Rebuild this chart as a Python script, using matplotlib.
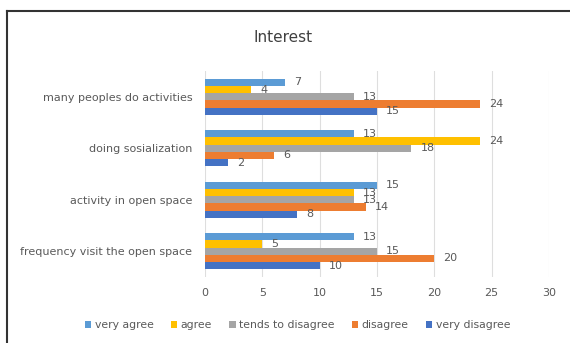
import matplotlib.pyplot as plt
import numpy as np

# Survey answers per statement (counts)
CATEGORIES = ["frequency visit the open space", "activity in open space",
              "doing sosialization", "many peoples do activities"]
SERIES = ["very agree", "agree", "tends to disagree", "disagree", "very disagree"]
VERY_AGREE = [13, 15, 13, 7]
AGREE = [5, 13, 24, 4]
TENDS_TO_DISAGREE = [15, 13, 18, 13]
DISAGREE = [20, 14, 6, 24]
VERY_DISAGREE = [10, 8, 2, 15]
X_TICKS = [0, 5, 10, 15, 20, 25, 30]

COLORS = ["#5B9BD5", "#FFC000", "#A5A5A5", "#ED7D31", "#4472C4"]
TEXT_GRAY = "#595959"


def main():
    fig = plt.figure(figsize=(5.7, 3.43), dpi=100)
    ax = fig.add_axes([205 / 570, 1 - 277 / 343, 344 / 570, 206 / 343])

    values = [VERY_AGREE, AGREE, TENDS_TO_DISAGREE, DISAGREE, VERY_DISAGREE]
    y = np.arange(len(CATEGORIES))
    h = 0.14
    for i, (name, vals, color) in enumerate(zip(SERIES, values, COLORS)):
        pos = y + (2 - i) * h
        ax.barh(pos, vals, height=h, color=color, label=name, zorder=2)
        for p, v in zip(pos, vals):
            ax.text(v + 0.8, p, str(v), va="center", ha="left",
                    fontsize=8, color=TEXT_GRAY, zorder=3)

    ax.set_xlim(0, 30)
    ax.set_ylim(-0.5, len(CATEGORIES) - 0.5)
    ax.set_xticks(X_TICKS)
    ax.set_yticks(y)
    ax.set_yticklabels(CATEGORIES)
    ax.tick_params(axis="both", length=0, labelsize=8, labelcolor=TEXT_GRAY)
    ax.tick_params(axis="y", pad=9)
    ax.tick_params(axis="x", pad=8)
    ax.grid(axis="x", color="#DEDEDE", linewidth=0.8, zorder=0)
    for s in ax.spines.values():
        s.set_visible(False)

    fig.text(283 / 570, 1 - 37 / 343, "Interest", ha="center", va="center",
             fontsize=11, color="#404040")

    fig.legend(loc="center", bbox_to_anchor=(0.522, 1 - 325 / 343), ncol=5,
               frameon=False, fontsize=7.8, handlelength=0.6, handleheight=0.6,
               handletextpad=0.3, columnspacing=1.6, labelcolor=TEXT_GRAY)

    # dark frame lines along the top and left edges
    fig.add_artist(plt.Line2D([7 / 570, 1], [1 - 11 / 343] * 2,
                              color="#333333", linewidth=1.5))
    fig.add_artist(plt.Line2D([7 / 570] * 2, [0, 1 - 11 / 343],
                              color="#333333", linewidth=1.5))

    plt.savefig("out.png", dpi=100)
    plt.close()


if __name__ == "__main__":
    main()
